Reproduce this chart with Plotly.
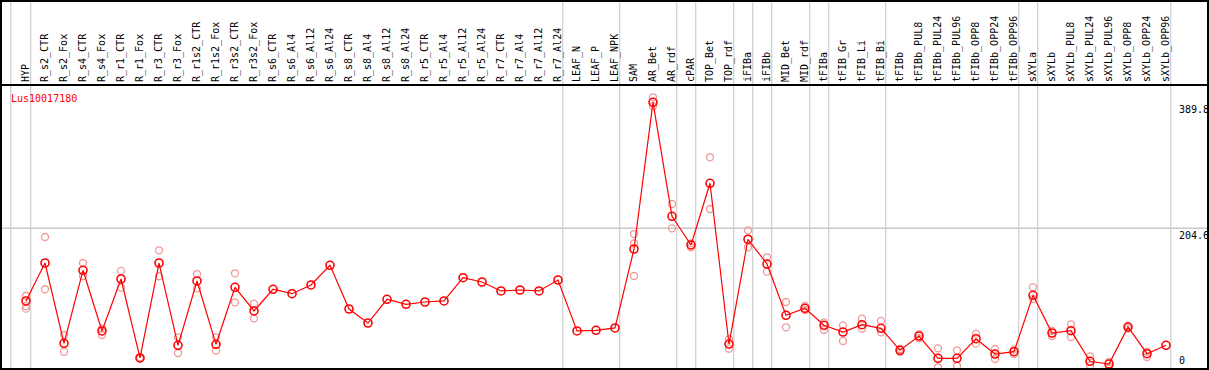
import plotly.graph_objects as go

categories = ["HYP", "R_s2_CTR", "R_s2_Fox", "R_s4_CTR", "R_s4_Fox", "R_r1_CTR", "R_r1_Fox",
              "R_r3_CTR", "R_r3_Fox", "R_r1s2_CTR", "R_r1s2_Fox", "R_r3s2_CTR", "R_r3s2_Fox",
              "R_s6_CTR", "R_s6_Al4", "R_s6_Al12", "R_s6_Al24", "R_s8_CTR", "R_s8_Al4",
              "R_s8_Al12", "R_s8_Al24", "R_r5_CTR", "R_r5_Al4", "R_r5_Al12", "R_r5_Al24",
              "R_r7_CTR", "R_r7_Al4", "R_r7_Al12", "R_r7_Al24", "LEAF_N", "LEAF_P", "LEAF_NPK",
              "SAM", "AR_Bet", "AR_rdf", "cPAR", "TOP_Bet", "TOP_rdf", "iFIBa", "iFIBb",
              "MID_Bet", "MID_rdf", "tFIBa", "tFIB_Gr", "tFIB_Li", "tFIB_Bi", "tFIBb",
              "tFIBb_PUL8", "tFIBb_PUL24", "tFIBb_PUL96", "tFIBb_OPP8", "tFIBb_OPP24",
              "tFIBb_OPP96", "sXYLa", "sXYLb", "sXYLb_PUL8", "sXYLb_PUL24", "sXYLb_PUL96",
              "sXYLb_OPP8", "sXYLb_OPP24", "sXYLb_OPP96"]

means = [97.8, 153.6, 35.6, 142.9, 53.7, 130.1, 14.0,
         153.6, 32.6, 127.2, 34.1, 117.9, 83.1,
         115.0, 108.5, 121.3, 150.2, 86.0, 65.4,
         100.3, 92.9, 96.3, 97.8, 132.0, 125.7,
         112.5, 113.9, 112.5, 128.6, 53.7, 54.7, 58.1,
         174.2, 389.8, 222.3, 180.1, 270.8, 34.5, 188.5, 152.1,
         76.7, 87.0, 62.0, 52.2, 62.9, 57.6, 25.3,
         46.3, 13.5, 13.5, 42.3, 19.8,
         23.2, 106.1, 50.7, 54.1, 9.1, 5.1,
         59.5, 20.3, 32.6]

replicates = [[105.5, 90.4, 86.5], [191.8, 115.0], [47.8, 23.2], [153.6, 134.5], [57.6, 47.8],
              [141.9, 117.3], [13.0, 15.0], [172.3, 134.1], [44.4, 21.3], [137.4, 116.4],
              [44.4, 24.7], [138.5, 95.8], [93.8, 72.3],
              [], [], [], [], [], [], [], [], [], [], [], [], [], [], [], [], [], [], [],
              [196.2, 182.6, 134.5], [397.2, 384.4], [240.3, 204.6], [176.7, 182.6],
              [309.0, 233.0], [41.5, 27.6], [201.7, 176.7], [162.0, 140.8],
              [96.3, 59.1], [84.5, 90.4], [66.4, 55.1], [62.0, 39.0], [71.7, 57.0],
              [68.4, 51.7], [27.2, 22.8],
              [49.0, 43.0], [28.2, 0.3], [25.3, 2.2], [49.7, 35.0], [27.2, 12.5],
              [26.2, 19.8], [117.9, 100.7], [53.7, 46.3], [63.5, 44.8], [16.5, 2.6],
              [8.1, 1.2], [61.0, 57.3], [23.2, 15.4], []]

# group separators (between category positions)
separators = [-0.8, 0.25, 28.25, 31.25, 34.25, 35.25, 37.25, 38.25, 39.25, 41.25,
              42.25, 45.25, 52.25, 53.25, 60.25]

axis_labels = [389.8, 204.6, 0]
gene = "Lus10017180"

W, H = 1209, 370
header_px = 85
px_per_cat = 19
first_px = 26
px_per_unit = 0.6803
zero_px = 367.5

x_idx = list(range(len(categories)))
rx, ry = [], []
for i, reps in enumerate(replicates):
    for v in reps:
        rx.append(i)
        ry.append(v)

fig = go.Figure()
fig.add_trace(go.Scatter(
    x=rx, y=ry, mode="markers",
    marker=dict(symbol="circle-open", size=7, color="#f09a9a", line=dict(width=1.3, color="#f09a9a")),
    hoverinfo="skip", showlegend=False))
fig.add_trace(go.Scatter(
    x=x_idx, y=means, mode="lines+markers",
    line=dict(color="#ff0000", width=1.2),
    marker=dict(symbol="circle-open", size=8, color="#ff0000", line=dict(width=1.6, color="#ff0000")),
    showlegend=False))

xmin = -first_px / px_per_cat
xmax = xmin + W / px_per_cat
ytop = (zero_px - header_px) / px_per_unit
ybot = (zero_px - H) / px_per_unit
dom_top = (H - header_px) / H

mono = "DejaVu Sans Mono"
fig.update_layout(
    width=W, height=H,
    margin=dict(l=0, r=0, t=0, b=0),
    paper_bgcolor="white", plot_bgcolor="white",
    font=dict(family=mono, size=10, color="black"),
    xaxis=dict(range=[xmin, xmax], side="top", tickmode="array", tickvals=x_idx,
               ticktext=categories, tickangle=-90, ticks="", showgrid=False, zeroline=False,
               showline=False, automargin=False, ticklabelstandoff=2,
               tickfont=dict(family=mono, size=10, color="black")),
    yaxis=dict(range=[ybot, ytop], domain=[0, dom_top], showgrid=False, zeroline=False,
               showticklabels=False, showline=False, automargin=False),
)

shapes = []
for s in separators:
    shapes.append(dict(type="line", xref="x", yref="paper", x0=s, x1=s, y0=0, y1=1,
                       line=dict(color="#c4c4c4", width=1), layer="below"))
shapes.append(dict(type="line", xref="paper", yref="y", x0=0, x1=1, y0=axis_labels[1], y1=axis_labels[1],
                   line=dict(color="#c8c8c8", width=1.5), layer="below"))
# frame lines
for y in [1 - 1 / H, dom_top, 1 / H]:
    shapes.append(dict(type="line", xref="paper", yref="paper", x0=0, x1=1, y0=y, y1=y,
                       line=dict(color="black", width=2)))
for x in [1 / W, 1 - 1 / W]:
    shapes.append(dict(type="line", xref="paper", yref="paper", x0=x, x1=x, y0=0, y1=1,
                       line=dict(color="black", width=2)))
fig.update_layout(shapes=shapes)

ann = [dict(text=gene, xref="paper", yref="paper", x=9 / W, y=(H - 91) / H, xanchor="left",
            yanchor="top", showarrow=False, font=dict(family=mono, size=10, color="#ff0000"))]
for v, anc in zip(axis_labels, ["top", "top", "bottom"]):
    ann.append(dict(text=f"{v:g}", xref="paper", yref="y", x=1177 / W, y=v, xanchor="left",
                    yanchor=anc, showarrow=False, font=dict(family=mono, size=10, color="black")))
fig.update_layout(annotations=ann)

fig.write_html("out.html", config={"displayModeBar": False},
               post_script="document.body.style.margin='0';document.body.style.overflow='hidden';")
